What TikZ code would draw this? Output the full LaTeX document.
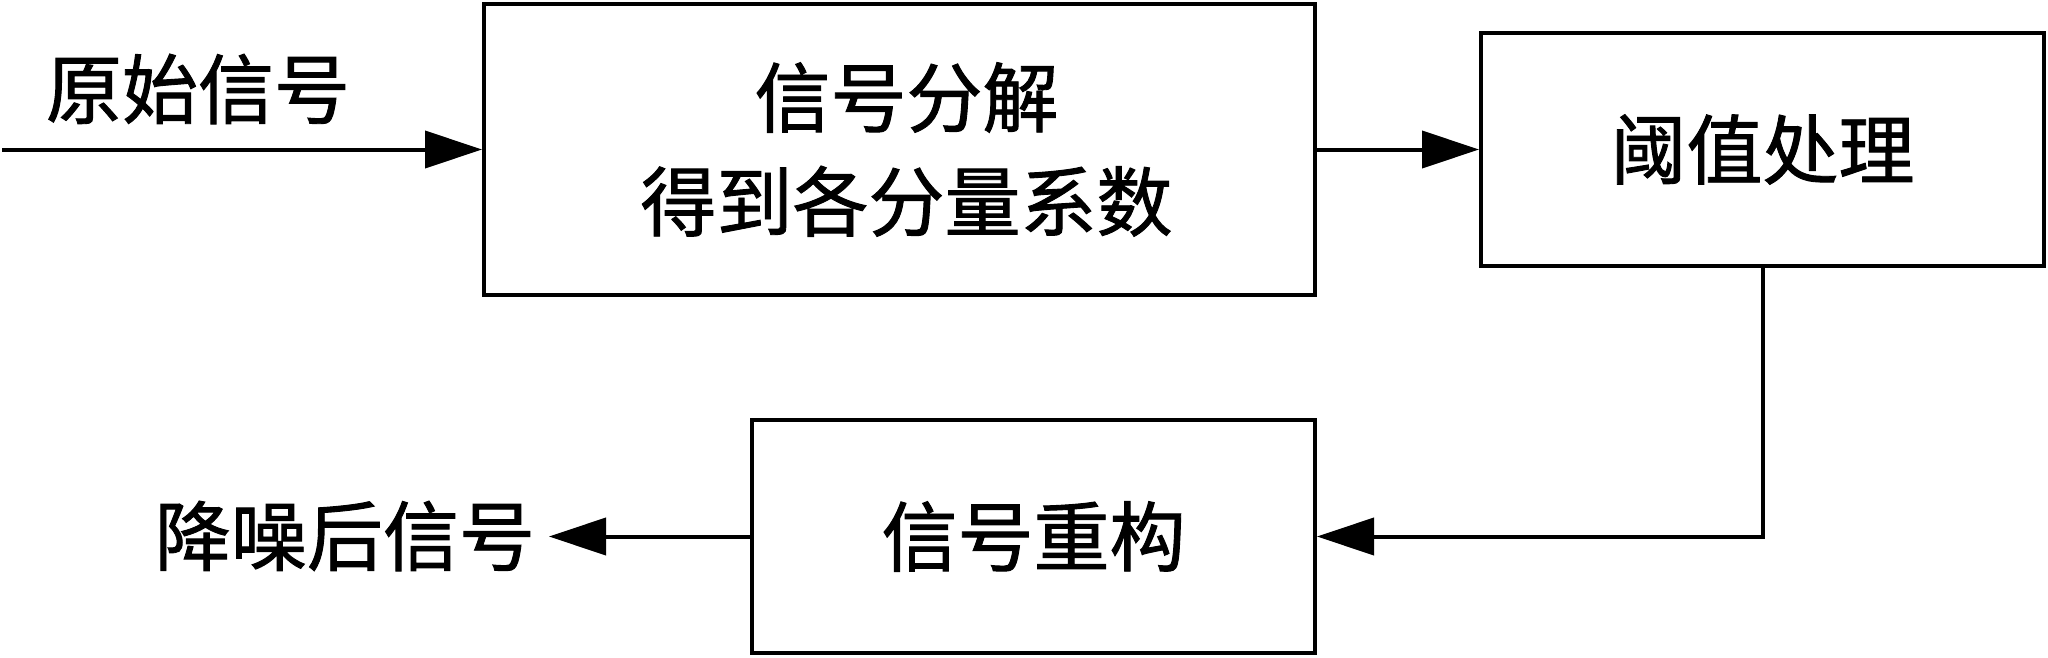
\documentclass[tikz,border=0pt]{standalone}
\usepackage{fontspec}
\setmainfont{Noto Sans CJK SC}[FakeBold=1.2]
\usetikzlibrary{arrows.meta}
\tikzset{
  blk/.style={draw=black, line width=4pt, rectangle, inner sep=0pt, align=center,
    font=\fontsize{76}{104}\selectfont},
  lbl/.style={inner sep=0pt, font=\fontsize{76}{104}\selectfont},
  conn/.style={line width=4pt, -{Triangle[length=57pt,width=37pt]}}
}
\begin{document}
\begin{tikzpicture}[x=1pt,y=-1pt]
\useasboundingbox (0,0) rectangle (2048,657);
\node[blk, minimum width=831pt, minimum height=291pt] (dec) at (899.5,149.5) {\hspace*{14pt}信号分解\\\hspace*{14pt}得到各分量系数};
\node[blk, minimum width=563pt, minimum height=233pt] (thr) at (1762.5,149.5) {阈值处理};
\node[blk, minimum width=563pt, minimum height=233pt] (rec) at (1033.5,536.5) {信号重构};
\node[lbl] (in) at (198,89) {原始信号};
\node[lbl] (out) at (345,536) {降噪后信号};
\coordinate (start) at (2,149.5);
\coordinate (end) at (549,536.5);
\draw[conn] (start) -- (dec.west);
\draw[conn] (dec.east) -- (thr.west);
\draw[conn] (thr.south) |- (rec.east);
\draw[conn] (rec.west) -- (end);
\end{tikzpicture}
\end{document}
